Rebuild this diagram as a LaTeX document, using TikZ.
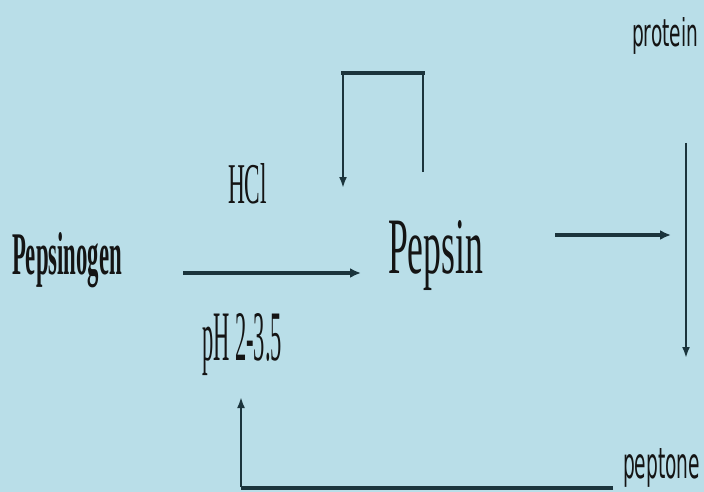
\documentclass[tikz,border=0pt]{standalone}
\usepackage{fontspec}
\setmainfont{Liberation Serif}
\newfontfamily\labelsans{DejaVu Sans}
\usetikzlibrary{arrows.meta}
\definecolor{bgblue}{HTML}{B9DEE8}
\definecolor{inkdark}{HTML}{1B343C}
\definecolor{textdark}{HTML}{141414}
\tikzset{
  lbl/.style={inner sep=0pt, outer sep=0pt, anchor=base west, text=textdark},
  thickline/.style={draw=inkdark, line width=4.5pt},
  thinline/.style={draw=inkdark, line width=2.2pt},
  tip/.style={-{Latex[length=11pt,width=10pt]}},
  smalltip/.style={-{Latex[length=11pt,width=8pt]}}
}
\begin{document}
\begin{tikzpicture}[x=1pt,y=-1pt]
  % canvas
  \fill[bgblue] (0,0) rectangle (704,492);
  \useasboundingbox (0,0) rectangle (704,492);

  % labels (condensed type)
  \node[lbl] (pepsinogen) at (12,274) {\resizebox{110pt}{42pt}{\bfseries Pepsinogen}};
  \node[lbl] (hcl) at (228,203) {\resizebox{39pt}{40pt}{HCl}};
  \node[lbl] (pepsin) at (388,273) {\resizebox{95pt}{53pt}{Pepsin}};
  \node[lbl] (ph) at (202,360) {\resizebox{80pt}{47pt}{pH 2-3.5}};
  \node[lbl] (protein) at (632,47) {\resizebox{66pt}{29pt}{\labelsans protein}};
  \node[lbl] (peptone) at (623,478) {\resizebox{77pt}{30pt}{\labelsans peptone}};

  % connector end points
  \coordinate (actS) at (183,273);
  \coordinate (actE) at (361,273);
  \coordinate (loopR) at (423,172);
  \coordinate (loopTR) at (423,73);
  \coordinate (loopTL) at (343,73);
  \coordinate (loopE) at (343,188);
  \coordinate (digS) at (555,235);
  \coordinate (digE) at (671,235);
  \coordinate (protS) at (686,143);
  \coordinate (protE) at (686,358);
  \coordinate (retS) at (613,488);
  \coordinate (retC) at (241,488);
  \coordinate (retE) at (241,397);

  % activation arrow
  \draw[thickline, tip] (actS) -- (actE);
  % autocatalytic loop
  \draw[thinline, smalltip] (loopR) -- (loopTR) -- (loopTL) -- (loopE);
  \draw[thickline, line cap=rect] (loopTR) -- (loopTL);
  % action on protein
  \draw[thickline, tip] (digS) -- (digE);
  \draw[thinline, smalltip] (protS) -- (protE);
  % return line from peptone
  \draw[thickline] (retS) -- (retC);
  \draw[thinline, smalltip] ([yshift=1pt]retC) -- (retE);
\end{tikzpicture}
\end{document}
